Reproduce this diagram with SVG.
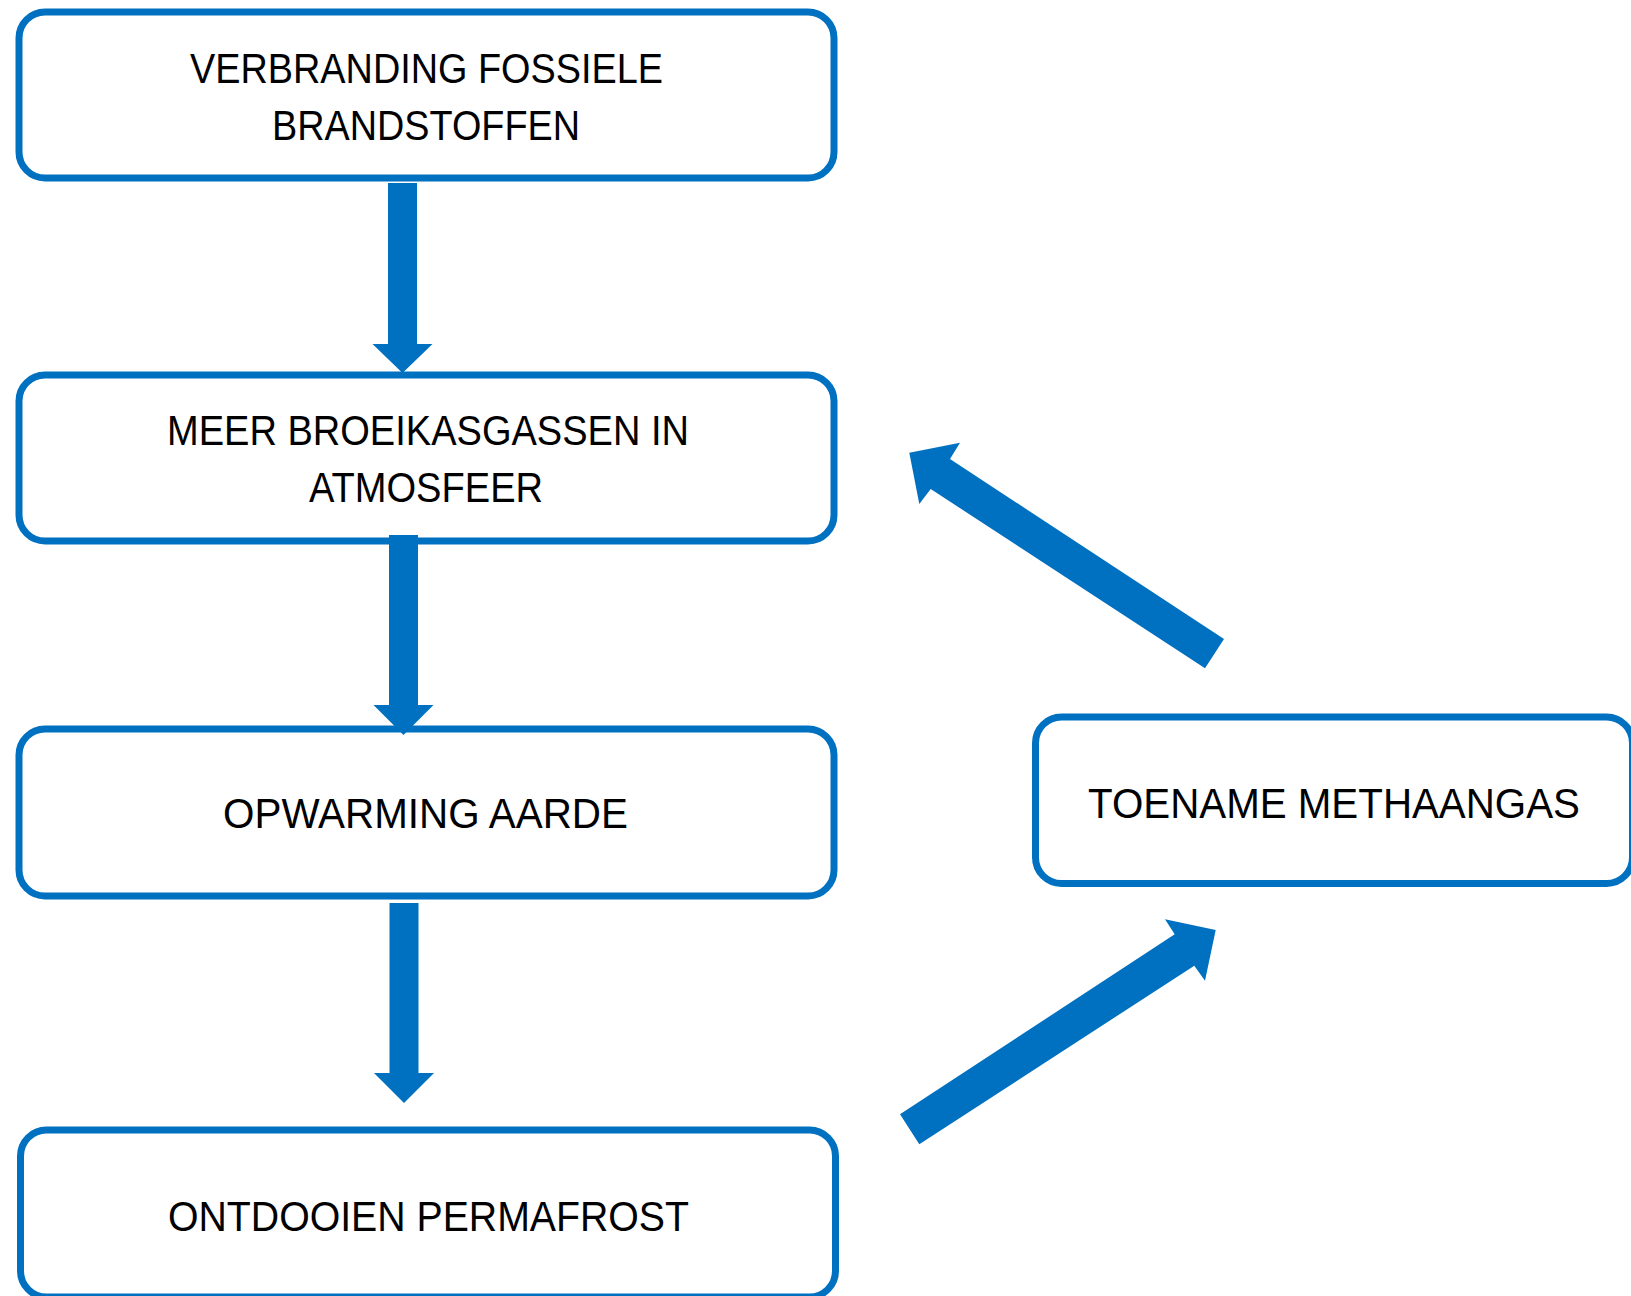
<svg xmlns="http://www.w3.org/2000/svg" width="1631" height="1296" viewBox="0 0 1631 1296">
<style>
.box{fill:#ffffff;stroke:#0070C0;stroke-width:7}
.lbl{font-family:"Liberation Sans",Arial,sans-serif;font-size:42px;fill:#000000}
.arr{fill:#0070C0;stroke:none}
</style>
<rect x="0" y="0" width="1631" height="1296" fill="#ffffff"/>
<g id="node-verbranding">
<rect class="box" x="19" y="12" width="815" height="166" rx="26"/>
<text class="lbl" x="190" y="83" textLength="473" lengthAdjust="spacingAndGlyphs">VERBRANDING FOSSIELE</text>
<text class="lbl" x="272" y="139.5" textLength="308" lengthAdjust="spacingAndGlyphs">BRANDSTOFFEN</text>
</g>
<g id="node-broeikasgassen">
<rect class="box" x="19" y="375" width="815" height="166" rx="26"/>
<text class="lbl" x="167" y="445" textLength="522" lengthAdjust="spacingAndGlyphs">MEER BROEIKASGASSEN IN</text>
<text class="lbl" x="309" y="502" textLength="234" lengthAdjust="spacingAndGlyphs">ATMOSFEER</text>
</g>
<g id="node-opwarming">
<rect class="box" x="19" y="729" width="815" height="167" rx="26"/>
<text class="lbl" x="223" y="828" textLength="405" lengthAdjust="spacingAndGlyphs">OPWARMING AARDE</text>
</g>
<g id="node-permafrost">
<rect class="box" x="20.5" y="1130" width="815" height="167" rx="26"/>
<text class="lbl" x="168" y="1231" textLength="521" lengthAdjust="spacingAndGlyphs">ONTDOOIEN PERMAFROST</text>
</g>
<g id="node-methaangas">
<rect class="box" x="1035.5" y="717" width="597" height="166.5" rx="26"/>
<text class="lbl" x="1088" y="817.5" textLength="492" lengthAdjust="spacingAndGlyphs">TOENAME METHAANGAS</text>
</g>
<g id="connectors">
<polygon class="arr" points="388,183 417,183 417,344 432.5,344 402.5,373 372.5,344 388,344"/>
<polygon class="arr" points="389,535 418,535 418,705 433.5,705 403.5,735 373.5,705 389,705"/>
<polygon class="arr" points="389.5,903 418.5,903 418.5,1073 434,1073 404,1103 374,1073 389.5,1073"/>
<polygon class="arr" points="1224,639 1205,668.3 930.7,489 919.3,504 909.3,452.7 960,442.7 950,459"/>
<polygon class="arr" points="919.3,1144.3 900,1114.3 1174.7,934.3 1165,919.3 1215.7,930 1205,980.7 1194.3,965.7"/>
</g>
</svg>
